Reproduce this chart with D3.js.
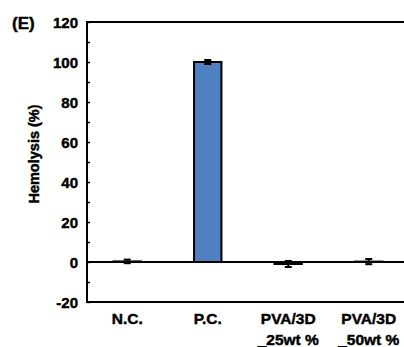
<!DOCTYPE html>
<html>
<head>
<meta charset="utf-8">
<script src="https://d3js.org/d3.v7.min.js"></script>
<style>
  body { margin: 0; background: #fff; }
  text { font-family: "Liberation Sans", Arial, sans-serif; font-weight: bold; stroke: #000; stroke-width: 0.45px; }
</style>
</head>
<body>
<div id="chart"></div>
<script>
// data
const groups = ["N.C.", "P.C.", "PVA/3D\n_25wt %", "PVA/3D\n_50wt %"];
const hemolysis = [0.3, 100, -1.0, 0.2];
const errors = [0.9, 1.0, 1.5, 1.3];
const yTicks = [-20, 0, 20, 40, 60, 80, 100, 120];

const W = 404, H = 347;
const mLeft = 87, mRight = 409, mTop = 22, mBottom = 302;

const svg = d3.select("#chart").append("svg")
  .attr("width", W).attr("height", H);

const x = d3.scaleBand().domain(groups).range([mLeft, mRight]).paddingInner(0.66).paddingOuter(0.33);
const y = d3.scaleLinear().domain([-20, 120]).range([mBottom, mTop]);

// frame
svg.append("rect")
  .attr("x", mLeft).attr("y", mTop)
  .attr("width", mRight - mLeft).attr("height", mBottom - mTop)
  .attr("fill", "none").attr("stroke", "#000").attr("stroke-width", 2);

// y axis ticks (inside) + labels
const yAxis = d3.axisLeft(y).tickValues(d3.range(-20, 121, 10)).tickSize(-3).tickFormat("");
svg.append("g").attr("transform", `translate(${mLeft},0)`).call(yAxis)
  .call(g => g.select(".domain").remove())
  .call(g => g.selectAll("line").attr("stroke-width", 1.5));

svg.selectAll("text.ytick")
  .data(yTicks)
  .join("text")
  .attr("class", "ytick")
  .attr("x", mLeft - 9)
  .attr("y", d => y(d) + 5.5)
  .attr("text-anchor", "end")
  .style("font-size", "15px")
  .text(d => d);

// bars
svg.selectAll("rect.bar")
  .data(groups)
  .join("rect")
  .attr("class", "bar")
  .attr("x", d => x(d))
  .attr("width", x.bandwidth())
  .attr("y", (d, i) => y(Math.max(0, hemolysis[i])))
  .attr("height", (d, i) => Math.abs(y(hemolysis[i]) - y(0)))
  .attr("fill", "#4f81c2")
  .attr("stroke", "#000")
  .attr("stroke-width", 2);

// zero line
svg.append("line")
  .attr("x1", mLeft).attr("x2", mRight)
  .attr("y1", y(0)).attr("y2", y(0))
  .attr("stroke", "#000").attr("stroke-width", 2);

// error bars
const eb = svg.selectAll("g.err").data(groups).join("g").attr("class", "err");
eb.append("line")
  .attr("x1", d => x(d) + x.bandwidth() / 2)
  .attr("x2", d => x(d) + x.bandwidth() / 2)
  .attr("y1", (d, i) => y(hemolysis[i] + errors[i]))
  .attr("y2", (d, i) => y(hemolysis[i] - errors[i]))
  .attr("stroke", "#000").attr("stroke-width", 2);
eb.selectAll("line.cap")
  .data((d, i) => [hemolysis[i] + errors[i], hemolysis[i] - errors[i]].map(v => ({ g: d, v })))
  .join("line")
  .attr("class", "cap")
  .attr("x1", d => x(d.g) + x.bandwidth() / 2 - 3.5)
  .attr("x2", d => x(d.g) + x.bandwidth() / 2 + 3.5)
  .attr("y1", d => y(d.v))
  .attr("y2", d => y(d.v))
  .attr("stroke", "#000").attr("stroke-width", 2);

// category labels
svg.selectAll("text.xlab")
  .data(groups)
  .join("text")
  .attr("class", "xlab")
  .attr("text-anchor", "middle")
  .style("font-size", "15.5px")
  .each(function (d) {
    const cx = x(d) + x.bandwidth() / 2;
    d3.select(this).selectAll("tspan")
      .data(d.split("\n"))
      .join("tspan")
      .attr("x", cx)
      .attr("y", (t, j) => 324 + j * 21)
      .text(t => t);
  });

// y label
svg.append("text")
  .attr("transform", `translate(39,${(mTop + mBottom) / 2 - 8}) rotate(-90)`)
  .attr("text-anchor", "middle")
  .style("font-size", "14.5px")
  .text("Hemolysis (%)");

// panel label
svg.append("text")
  .attr("x", 12).attr("y", 29)
  .style("font-size", "17px")
  .text("(E)");
</script>
</body>
</html>
